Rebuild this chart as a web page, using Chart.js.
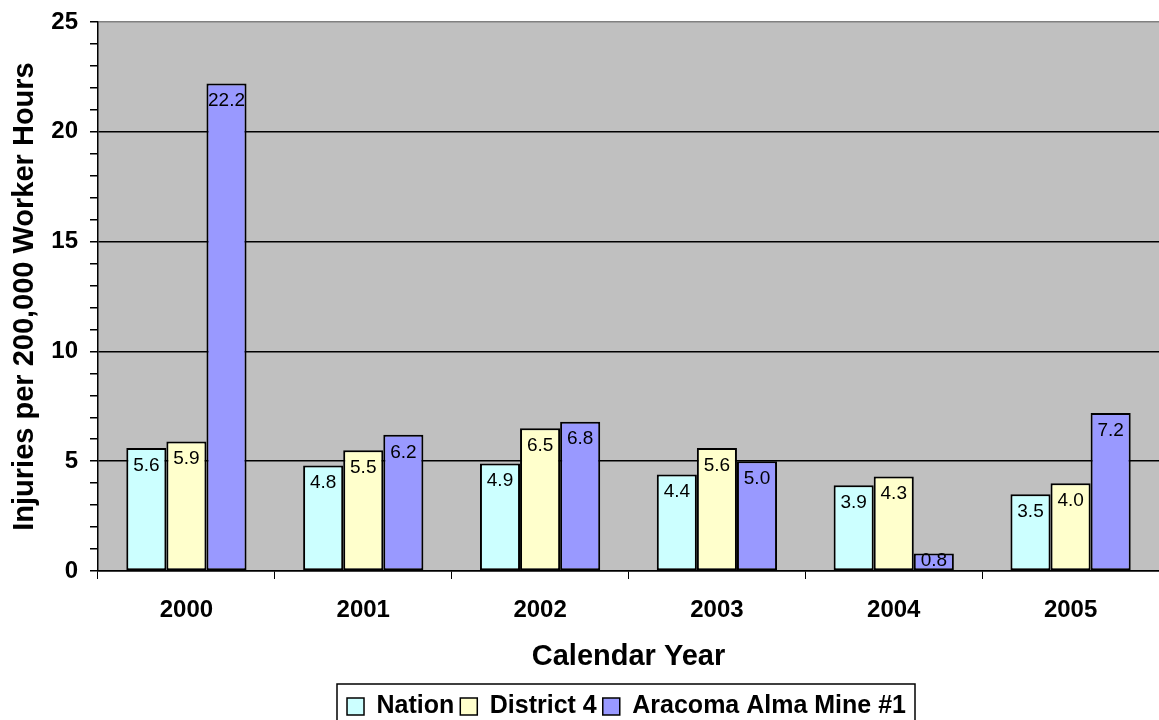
<!DOCTYPE html>
<html>
<head>
<meta charset="utf-8">
<script src="https://cdn.jsdelivr.net/npm/chart.js@4.4.1/dist/chart.umd.min.js"></script>
<style>
  html, body { margin:0; padding:0; background:#fff; }
  #wrap { width:1159px; height:720px; position:relative; }
</style>
</head>
<body>
<div id="wrap"><canvas id="c"></canvas></div>
<script>
// Injury rates per 200,000 worker hours
const years = ['2000','2001','2002','2003','2004','2005'];
const nation = [5.6, 4.8, 4.9, 4.4, 3.9, 3.5];
const district4 = [5.9, 5.5, 6.5, 5.6, 4.3, 4.0];
const aracoma = [22.2, 6.2, 6.8, 5.0, 0.8, 7.2];

const FONT = 'Liberation Sans, Arial, sans-serif';

// grey plot background
const plotBg = {
  id: 'plotBg',
  beforeDraw(chart) {
    const { ctx, chartArea: a } = chart;
    ctx.save();
    ctx.fillStyle = '#c0c0c0';
    ctx.fillRect(a.left, a.top, a.right - a.left, a.bottom - a.top);
    ctx.restore();
  }
};

// value labels inside the top of each bar
const barLabels = {
  id: 'barLabels',
  afterDatasetsDraw(chart) {
    const { ctx } = chart;
    ctx.save();
    ctx.font = '19px ' + FONT;
    ctx.fillStyle = '#000';
    ctx.textAlign = 'center';
    ctx.textBaseline = 'top';
    chart.data.datasets.forEach((ds, i) => {
      chart.getDatasetMeta(i).data.forEach((bar, j) => {
        const y = Math.min(bar.y + 8, bar.base - 19);
        ctx.fillText(ds.data[j].toFixed(1), bar.x, y);
      });
    });
    ctx.restore();
  }
};

// move legend to the plot centre, a bit lower, and frame it
const legendBox = {
  id: 'legendBox',
  afterLayout(chart) {
    const l = chart.legend;
    l.left += 47; l.right += 47;
    l.top += 14; l.bottom += 14;
  },
  afterDraw(chart) {
    const { ctx } = chart;
    ctx.save();
    ctx.strokeStyle = '#000';
    ctx.lineWidth = 1.5;
    ctx.strokeRect(337, 684, 578, 50);
    ctx.restore();
  }
};

new Chart(document.getElementById('c'), {
  type: 'bar',
  data: {
    labels: years,
    datasets: [
      { label: 'Nation', data: nation, backgroundColor: '#ccffff' },
      { label: 'District 4', data: district4, backgroundColor: '#ffffcc' },
      { label: 'Aracoma Alma Mine #1', data: aracoma, backgroundColor: '#9999ff' },
    ].map(d => ({ ...d, borderColor: '#000', borderWidth: 2, borderSkipped: false,
                  categoryPercentage: 0.68, barPercentage: 1.0 }))
  },
  options: {
    responsive: true, maintainAspectRatio: false, animation: false,
    layout: { padding: { top: 22, right: 0, left: 0, bottom: 5 } },
    plugins: {
      tooltip: { enabled: false },
      legend: {
        position: 'bottom',
        labels: {
          font: { size: 25, weight: 'bold', family: FONT }, color: '#000',
          boxWidth: 17, boxHeight: 17, padding: 6,
          generateLabels(chart) {
            return chart.data.datasets.map((ds, i) => ({
              text: ds.label, fillStyle: ds.backgroundColor, strokeStyle: '#000',
              lineWidth: 1.5, datasetIndex: i, fontColor: '#000'
            }));
          }
        }
      }
    },
    scales: {
      x: {
        afterFit(s) { s.height = 103; },
        grid: { offset: true, drawOnChartArea: false, color: '#000', tickLength: 8 },
        border: { color: '#000', width: 1.5 },
        ticks: { font: { size: 24, weight: 'bold', family: FONT }, color: '#000', padding: 17 },
        title: { display: true, text: 'Calendar Year', color: '#000',
                 font: { size: 29, weight: 'bold', family: FONT }, padding: { top: 10, bottom: 0 } }
      },
      y: {
        min: 0, max: 25,
        afterFit(s) { s.width = 98; s.paddingTop = 0; },
        grid: {
          color: c => c.tick.value === 25 ? '#808080' : (c.tick.value % 5 === 0 ? '#000' : 'rgba(0,0,0,0)'),
          tickColor: '#000', tickLength: 8, lineWidth: 1.5
        },
        border: { color: '#000', width: 1.5 },
        ticks: {
          stepSize: 1, autoSkip: false, padding: 12,
          font: { size: 24, weight: 'bold', family: FONT }, color: '#000',
          callback: v => v % 5 === 0 ? v : ''
        },
        title: { display: true, text: 'Injuries per 200,000 Worker Hours', color: '#000',
                 font: { size: 29, weight: 'bold', family: FONT }, padding: { top: 8, bottom: 0 } }
      }
    }
  },
  plugins: [plotBg, barLabels, legendBox]
});
</script>
</body>
</html>
